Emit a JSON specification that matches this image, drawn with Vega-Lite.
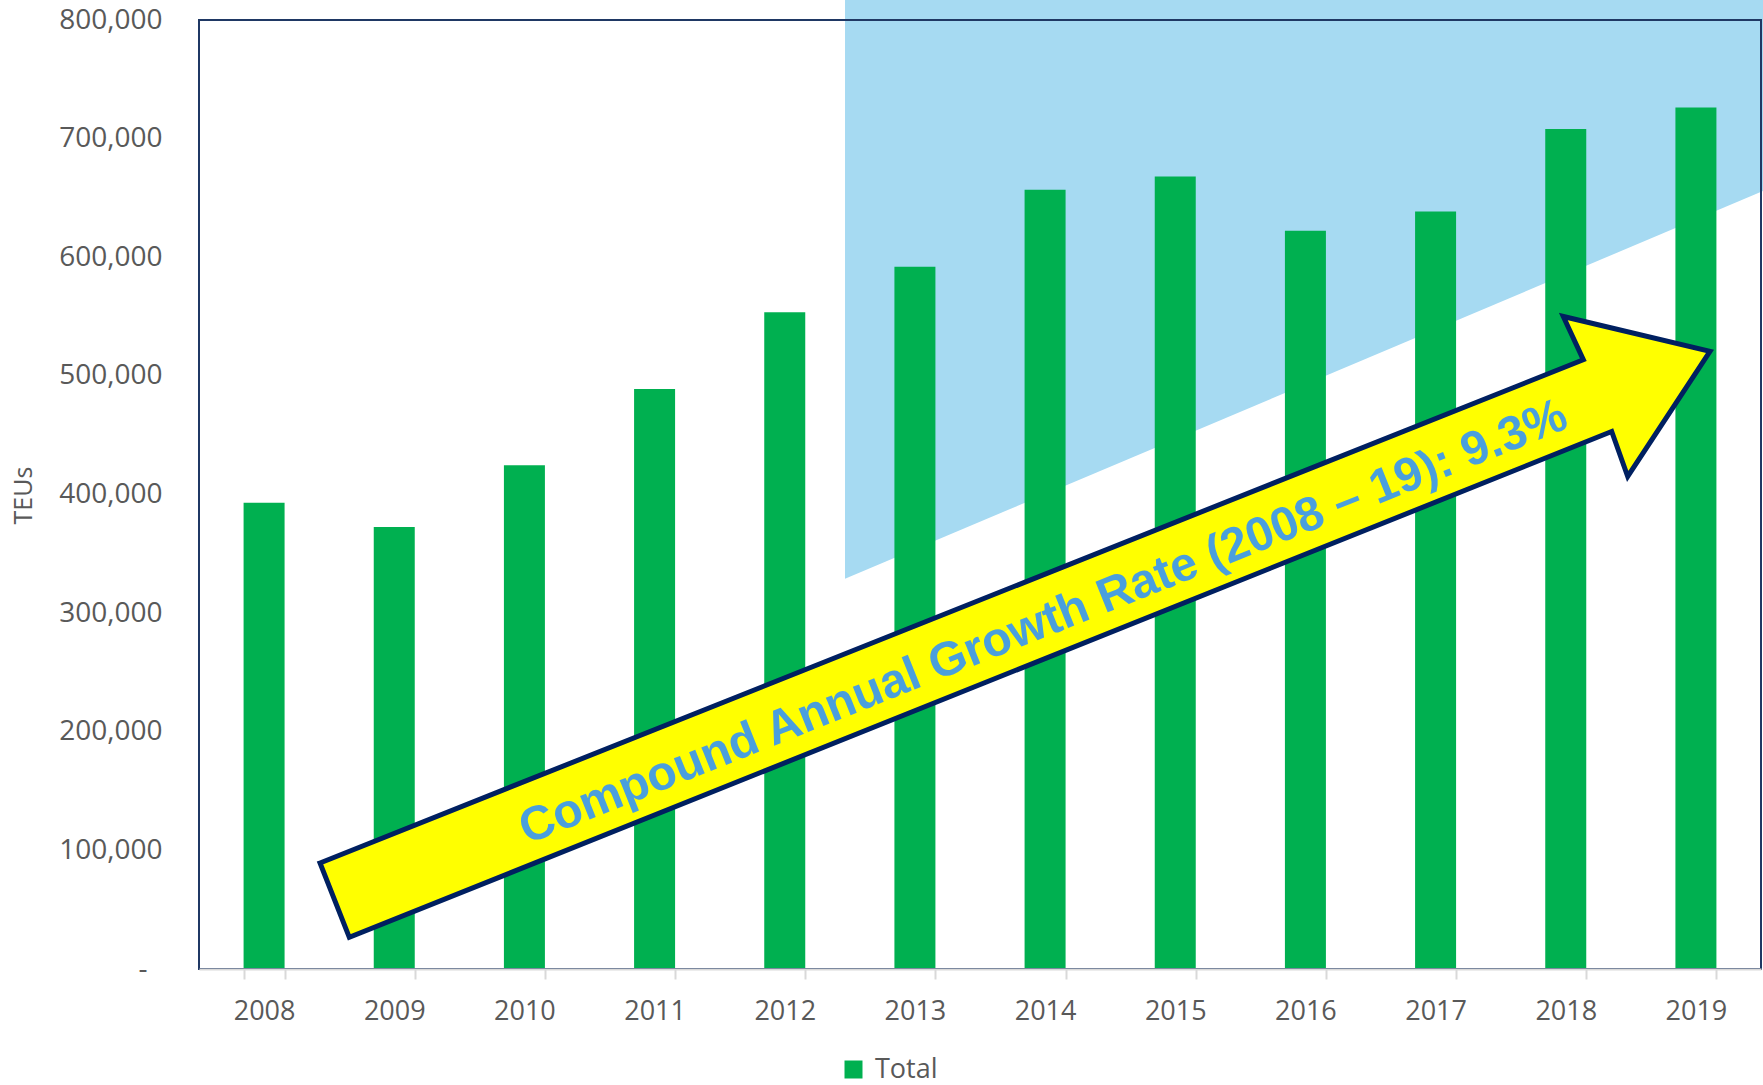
{
  "$schema": "https://vega.github.io/schema/vega-lite/v6.json",
  "width": 1562,
  "height": 949,
  "autosize": "none",
  "padding": {"left": 199, "top": 20, "right": 2, "bottom": 116},
  "config": {"view": {"stroke": null}, "font": "Open Sans"},
  "datasets": {
    "teu": [
      {"year": "2008", "v": 393000, "series": "Total"},
      {"year": "2009", "v": 372500, "series": "Total"},
      {"year": "2010", "v": 424600, "series": "Total"},
      {"year": "2011", "v": 489000, "series": "Total"},
      {"year": "2012", "v": 553600, "series": "Total"},
      {"year": "2013", "v": 592000, "series": "Total"},
      {"year": "2014", "v": 657000, "series": "Total"},
      {"year": "2015", "v": 668000, "series": "Total"},
      {"year": "2016", "v": 622400, "series": "Total"},
      {"year": "2017", "v": 638600, "series": "Total"},
      {"year": "2018", "v": 708100, "series": "Total"},
      {"year": "2019", "v": 726300, "series": "Total"}
    ],
    "band": [
      {"u": 4.963, "v": 329000, "hi": 818000},
      {"u": 12.02, "v": 656000, "hi": 818000}
    ],
    "frame": [
      {"u": 0, "u2": 12, "v": 0, "v2": 800000}
    ],
    "arrow": [
      {"i": 1, "u": 0.9296, "v": 89400},
      {"i": 2, "u": 10.635, "v": 513600},
      {"i": 3, "u": 10.481, "v": 550100},
      {"i": 4, "u": 11.608, "v": 520600},
      {"i": 5, "u": 10.976, "v": 415200},
      {"i": 6, "u": 10.853, "v": 453100},
      {"i": 7, "u": 1.1547, "v": 26700}
    ],
    "label": [
      {"u": 6.488, "v": 291800, "text": "Compound Annual Growth Rate (2008 – 19): 9.3%"}
    ]
  },
  "resolve": {"scale": {"x": "independent"}},
  "layer": [
    {
      "data": {"name": "band"},
      "mark": {"type": "area", "color": "#a6daf2", "opacity": 1},
      "encoding": {
        "x": {"field": "u", "type": "quantitative", "scale": {"domain": [0, 12], "nice": false, "zero": false}, "axis": null},
        "y": {"field": "v", "type": "quantitative", "scale": {"domain": [0, 800000], "nice": false}},
        "y2": {"field": "hi"}
      }
    },
    {
      "data": {"name": "teu"},
      "mark": {"type": "bar"},
      "encoding": {
        "x": {
          "field": "year", "type": "ordinal",
          "scale": {"paddingInner": 0.685, "paddingOuter": 0.3425},
          "axis": {
            "title": null, "labelAngle": 0, "labelFontSize": 27, "labelColor": "#595959", "labelFont": "Open Sans",
            "domainColor": "#d9d9d9", "domainWidth": 2, "tickColor": "#d9d9d9", "tickWidth": 2, "tickSize": 10,
            "tickBand": "extent", "labelPadding": 19, "zindex": 1
          }
        },
        "y": {
          "field": "v", "type": "quantitative",
          "scale": {"domain": [0, 800000], "nice": false},
          "axis": {
            "title": "TEUs", "titleFontSize": 25, "titleFont": "Open Sans", "titleFontWeight": "normal", "titleColor": "#595959",
            "titleX": -176, "titleY": 475, "titleAngle": -90, "titleAlign": "center", "titleBaseline": "middle",
            "values": [0, 100000, 200000, 300000, 400000, 500000, 600000, 700000, 800000],
            "labelExpr": "datum.value == 0 ? '-' : format(datum.value, ',')",
            "labelFontSize": 28, "labelColor": "#595959", "labelFont": "Open Sans",
            "ticks": false, "tickSize": 0, "domain": false, "grid": false,
            "labelPadding": {"condition": {"test": "datum.value == 0", "value": 52}, "value": 37}
          }
        },
        "color": {
          "field": "series", "type": "nominal",
          "scale": {"range": ["#00b050"]},
          "legend": {
            "title": null, "orient": "none", "legendX": 641, "legendY": 1036,
            "symbolType": "square", "symbolSize": 324, "symbolStrokeWidth": 0,
            "labelFontSize": 27, "labelColor": "#595959", "labelFont": "Open Sans", "labelOffset": 8
          }
        }
      }
    },
    {
      "data": {"name": "frame"},
      "mark": {"type": "rect", "fill": null, "fillOpacity": 0, "stroke": "#1f3864", "strokeWidth": 2},
      "encoding": {
        "x": {"field": "u", "type": "quantitative", "scale": {"domain": [0, 12], "nice": false, "zero": false}, "axis": null},
        "x2": {"field": "u2"},
        "y": {"field": "v", "type": "quantitative", "scale": {"domain": [0, 800000], "nice": false}},
        "y2": {"field": "v2"}
      }
    },
    {
      "data": {"name": "arrow"},
      "mark": {"type": "line", "interpolate": "linear-closed", "fill": "#ffff00", "stroke": "#002060", "strokeWidth": 5, "strokeJoin": "miter"},
      "encoding": {
        "x": {"field": "u", "type": "quantitative", "scale": {"domain": [0, 12], "nice": false, "zero": false}, "axis": null},
        "y": {"field": "v", "type": "quantitative", "scale": {"domain": [0, 800000], "nice": false}},
        "order": {"field": "i", "type": "quantitative"}
      }
    },
    {
      "data": {"name": "label"},
      "mark": {"type": "text", "font": "Liberation Sans", "fontWeight": "bold", "fontSize": 48, "color": "#4a9fdd", "angle": -21.8, "align": "center", "baseline": "middle"},
      "encoding": {
        "x": {"field": "u", "type": "quantitative", "scale": {"domain": [0, 12], "nice": false, "zero": false}, "axis": null},
        "y": {"field": "v", "type": "quantitative", "scale": {"domain": [0, 800000], "nice": false}},
        "text": {"field": "text"}
      }
    }
  ]
}
